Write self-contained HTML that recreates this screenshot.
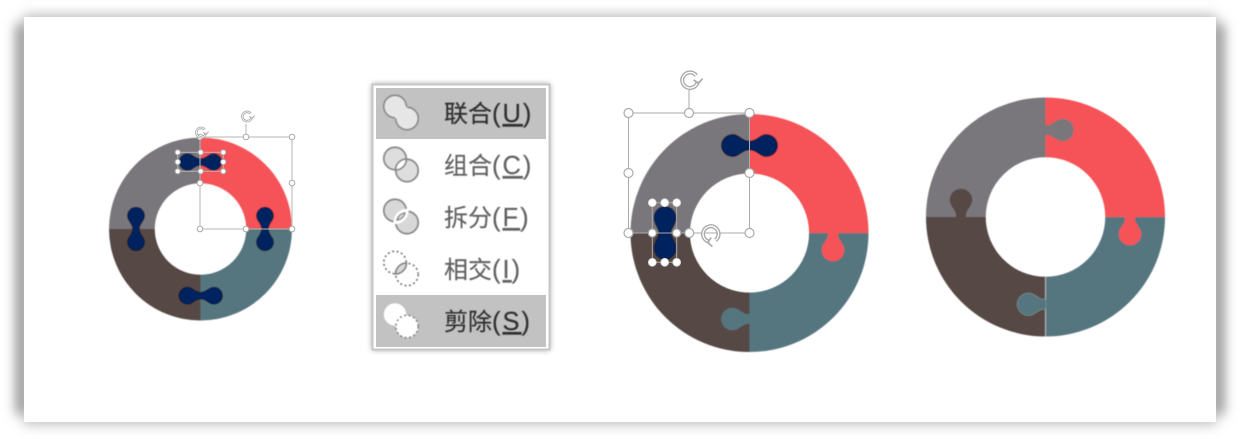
<!DOCTYPE html>
<html><head><meta charset="utf-8">
<style>
html,body{margin:0;padding:0;background:#fff;width:1240px;height:439px;overflow:hidden}
svg{display:block}
text{font-family:"Liberation Sans","Noto Sans CJK SC",sans-serif;font-size:24px;stroke-width:.15px}
tspan.l{font-size:25.5px;letter-spacing:2px}
</style></head>
<body>
<svg width="1240" height="439" viewBox="0 0 1240 439" xmlns="http://www.w3.org/2000/svg">
<defs>
<filter id="sh" x="-5%" y="-15%" width="110%" height="130%"><feGaussianBlur stdDeviation="6"/></filter>
<filter id="ms" x="-20%" y="-20%" width="140%" height="140%"><feGaussianBlur stdDeviation="3"/></filter>
<filter id="b" x="-5%" y="-5%" width="110%" height="110%"><feGaussianBlur stdDeviation="0.45"/></filter>
<path id="tr" d="M0,-120A120,120 0 0 1 120,0L60,0A60,60 0 0 0 0,-60Z" fill="#F65359"/>
<path id="br" d="M120,0A120,120 0 0 1 0,120L0,60A60,60 0 0 0 60,0Z" fill="#57767F"/>
<path id="bl" d="M0,120A120,120 0 0 1 -120,0L-60,0A60,60 0 0 0 0,60Z" fill="#574A45"/>
<path id="tl" d="M-120,0A120,120 0 0 1 0,-120L0,-60A60,60 0 0 0 -60,0Z" fill="#7A777C"/>
<path id="pn" d="M0,-3.6C3.5,-3.6 5.5,-5.2 8.5,-7.14A9,9 0 1 1 8.5,7.14C5.5,5.2 3.5,3.6 0,3.6C-3.5,3.6 -5.5,5.2 -8.5,7.14A9,9 0 1 1 -8.5,-7.14C-5.5,-5.2 -3.5,-3.6 0,-3.6Z" fill="#00205F" stroke="#111" stroke-width="0.6"/>
<path id="tab" d="M-5,-0.5L-5,2C-5,7 -11.3,11 -11.3,17A11.3,11.3 0 0 0 11.3,17C11.3,11 5,7 5,2L5,-0.5Z"/>
<g id="rot" fill="none">
<path d="M5.2,-4.6A6.5,6.5 0 1 0 6.5,0" stroke="#aaa" stroke-width="3.4"/>
<path d="M5.2,-4.6A6.5,6.5 0 1 0 6.5,0" stroke="#fff" stroke-width="1.1"/>
<path d="M3,-1L7,2L10.5,-2" stroke="#aaa" stroke-width="1.4"/>
</g>
</defs>

<rect width="1240" height="439" fill="#fff"/>
<rect x="16" y="24" width="1208" height="390" fill="#8e8e8e" filter="url(#sh)"/>
<rect x="24" y="14" width="1192" height="411" fill="#c4c4c4" filter="url(#sh)"/>
<rect x="24" y="17" width="1192" height="405" fill="#fff"/>

<!-- Donut 1 -->
<g filter="url(#b)">
<g transform="translate(200.5,229) scale(.7625)">
<use href="#tr"/><use href="#br"/><use href="#bl"/><use href="#tl"/>
</g>
<use href="#pn" transform="translate(200.5,162) scale(.93)"/>
<use href="#pn" transform="translate(136,229) rotate(90) scale(.95)"/>
<use href="#pn" transform="translate(265,229) rotate(90) scale(.95)"/>
<use href="#pn" transform="translate(200.7,295.7) scale(.95)"/>
</g>
<g fill="none" stroke="#b5b5b5" stroke-width="1">
<rect x="200" y="137" width="92" height="92"/>
<line x1="246" y1="137" x2="246" y2="124"/>
<rect x="177.7" y="152.3" width="45.6" height="19"/>
</g>
<g fill="#fff" stroke="#aaa" stroke-width="1">
<circle cx="200" cy="137" r="2.8"/><circle cx="246" cy="137" r="2.8"/><circle cx="292" cy="137" r="2.8"/>
<circle cx="200" cy="183" r="2.8"/><circle cx="292" cy="183" r="2.8"/>
<circle cx="200" cy="229" r="2.8"/><circle cx="246" cy="229" r="2.8"/><circle cx="292" cy="229" r="2.8"/>
<circle cx="177.7" cy="152.3" r="2.6"/><circle cx="200.7" cy="152.3" r="2.6"/><circle cx="223.3" cy="152.3" r="2.6"/>
<circle cx="177.7" cy="162" r="2.6"/><circle cx="223.3" cy="162" r="2.6"/>
<circle cx="177.7" cy="171.3" r="2.6"/><circle cx="200.7" cy="171.3" r="2.6"/><circle cx="223.3" cy="171.3" r="2.6"/>
</g>
<use href="#rot" transform="translate(247,117) scale(.72)"/>
<use href="#rot" transform="translate(201,133) scale(.72)"/>

<!-- Menu -->
<rect x="372" y="84" width="178" height="266" fill="#777" filter="url(#ms)" opacity=".7"/>
<rect x="372.5" y="84.5" width="177" height="265" fill="#fff" stroke="#c6c6c6" stroke-width="2"/>
<rect x="376" y="88" width="170" height="51" fill="#c2c2c2"/>
<rect x="376" y="295" width="170" height="52" fill="#c2c2c2"/>
<g filter="url(#b)">
<!-- union -->
<circle cx="395" cy="106.5" r="11.2" fill="#e6e6e6" stroke="#8a8a8a" stroke-width="1.8"/>
<circle cx="407" cy="118.5" r="11.2" fill="#e6e6e6" stroke="#8a8a8a" stroke-width="1.8"/>
<circle cx="395" cy="106.5" r="10.3" fill="#e6e6e6"/>
<circle cx="407" cy="118.5" r="10.3" fill="#e6e6e6"/>
<line x1="395" y1="106.5" x2="407" y2="118.5" stroke="#e6e6e6" stroke-width="15.5"/>
<!-- combine -->
<g stroke="#8a8a8a" stroke-width="1.8">
<circle cx="395" cy="158.5" r="11.2" fill="#dedede"/>
<circle cx="407" cy="170.5" r="11.2" fill="#dedede"/>
<path d="M406.5,159A11.2,11.2 0 0 1 395.5,170A11.2,11.2 0 0 1 406.5,159Z" fill="#fff"/>
</g>
<!-- fragment -->
<g stroke="#8a8a8a" stroke-width="1.8">
<circle cx="395" cy="210.5" r="11.2" fill="#d8d8d8"/>
<circle cx="407" cy="222.5" r="11.2" fill="#d8d8d8"/>
<path d="M406.5,211A11.2,11.2 0 0 1 395.5,222A11.2,11.2 0 0 1 406.5,211Z" fill="#fff" stroke="#fff" stroke-width="4"/>
<path d="M405,213A9,9 0 0 1 397,220A9,9 0 0 1 405,213Z" fill="#e4e4e4" stroke-width="1.5"/>
</g>
<!-- intersect -->
<g fill="none" stroke="#777" stroke-width="1.6" stroke-dasharray="2 2.5">
<circle cx="395" cy="262.5" r="11.2"/>
<circle cx="407" cy="274.5" r="11.2"/>
</g>
<path d="M406.5,263A11.2,11.2 0 0 1 395.5,274A11.2,11.2 0 0 1 406.5,263Z" fill="#d8d8d8" stroke="#777" stroke-width="1.5"/>
<!-- subtract -->
<circle cx="395" cy="314.5" r="11.2" fill="#fff"/>
<circle cx="407" cy="326.5" r="11.2" fill="#fff" stroke="#777" stroke-width="1.6" stroke-dasharray="2 2.5"/>
</g>
<g filter="url(#b)">
<text x="444" y="122" fill="#2e2e2e" stroke="#2e2e2e">联合<tspan class="l">(<tspan text-decoration="underline">U</tspan>)</tspan></text>
<text x="444" y="174" fill="#606060" stroke="#606060">组合<tspan class="l">(<tspan text-decoration="underline">C</tspan>)</tspan></text>
<text x="444" y="226" fill="#606060" stroke="#606060">拆分<tspan class="l">(<tspan text-decoration="underline">F</tspan>)</tspan></text>
<text x="444" y="278" fill="#606060" stroke="#606060">相交<tspan class="l">(<tspan text-decoration="underline">I</tspan>)</tspan></text>
<text x="444" y="330" fill="#2e2e2e" stroke="#2e2e2e">剪除<tspan class="l">(<tspan text-decoration="underline">S</tspan>)</tspan></text>
</g>

<!-- Donut 2 -->
<g filter="url(#b)">
<g transform="translate(749.5,233) scale(.9917)">
<use href="#br"/><use href="#bl"/><use href="#tl"/><use href="#tr"/>
</g>
<circle cx="749.5" cy="233" r="58.7" fill="#fff"/>
<use href="#tab" transform="translate(833,233)" fill="#F65359"/>
<use href="#tab" transform="translate(749.5,319) rotate(90)" fill="#57767F"/>
<use href="#pn" transform="translate(749.5,145.5) scale(1.22)"/>
<g transform="translate(665,233)"><path d="M-6,0C-6,-5 -11,-8 -11,-15C-11,-22 -6,-26.5 0,-26.5C6,-26.5 11,-22 11,-15C11,-8 6,-5 6,0C6,5 11,8 11,15C11,22 6,26.5 0,26.5C-6,26.5 -11,22 -11,15C-11,8 -6,5 -6,0Z" fill="#00205F" stroke="#111" stroke-width=".6"/></g>
</g>
<g fill="none" stroke="#aaa" stroke-width="1">
<rect x="628.5" y="113" width="121" height="120"/>
<line x1="689" y1="113" x2="689" y2="90"/>
<line x1="689" y1="233" x2="750" y2="233"/>
<rect x="652.3" y="202.7" width="24.4" height="59.6"/>
</g>
<g fill="#fff" stroke="#aaa" stroke-width="1.2">
<circle cx="628.5" cy="113" r="4.5"/><circle cx="689" cy="113" r="4.5"/><circle cx="749.5" cy="113" r="4.5"/>
<circle cx="628.5" cy="173" r="4.5"/><circle cx="749.5" cy="173" r="4.5"/>
<circle cx="628.5" cy="233" r="4.5"/><circle cx="689.3" cy="233" r="4.5"/><circle cx="749.5" cy="233" r="4.5"/>
<circle cx="652.3" cy="233" r="4"/><circle cx="676.7" cy="233" r="4"/>
</g>
<g fill="#fff" stroke="#ccc" stroke-width=".8">
<circle cx="652.3" cy="202.7" r="4"/><circle cx="664.7" cy="202.7" r="4"/><circle cx="676.7" cy="202.7" r="4"/>
<circle cx="652.3" cy="262.3" r="4"/><circle cx="664.7" cy="262.3" r="4"/><circle cx="676.7" cy="262.3" r="4"/>
</g>
<use href="#rot" transform="translate(690,81) scale(1.2)"/>
<use href="#rot" transform="translate(710,234) rotate(90) scale(1.2)"/>

<!-- Donut 3 -->
<g filter="url(#b)">
<g transform="translate(1045.5,217) scale(.996)">
<use href="#br"/><use href="#bl"/><use href="#tl"/><use href="#tr"/>
</g>
<line x1="1045.5" y1="277" x2="1045.5" y2="337" stroke="#d8d8d8" stroke-width=".7"/>
<use href="#tab" transform="translate(1130,217)" fill="#F65359"/>
<use href="#tab" transform="translate(1045.5,304.3) rotate(90)" fill="#57767F" stroke="#8b9ea3" stroke-width=".5"/>
<use href="#tab" transform="translate(1045.5,130) rotate(-90)" fill="#7A777C"/>
<use href="#tab" transform="translate(961,217) rotate(180)" fill="#574A45"/>
</g>
</svg>
</body></html>
